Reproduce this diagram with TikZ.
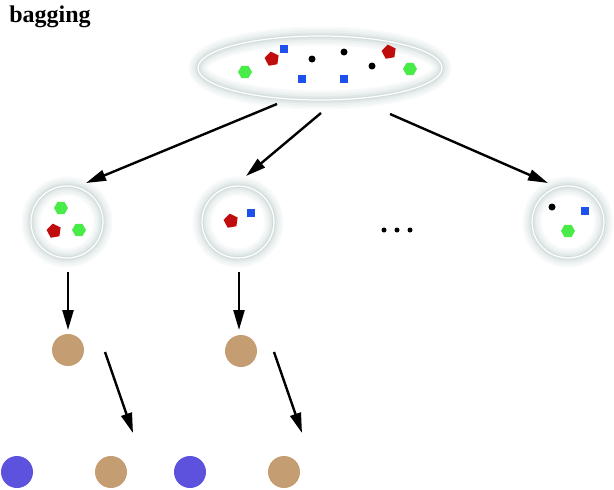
\documentclass[tikz,border=0pt]{standalone}
\usepackage{fontspec}
\setmainfont{Liberation Serif}
\usetikzlibrary{arrows.meta, shapes.geometric}
\definecolor{halo}{RGB}{190,204,204}
\definecolor{tanball}{RGB}{196,158,114}
\definecolor{blueball}{RGB}{92,82,222}
\definecolor{pentred}{RGB}{192,12,12}
\definecolor{hexgreen}{RGB}{72,235,72}
\definecolor{sqblue}{RGB}{30,80,235}

\begin{document}
\begin{tikzpicture}[
  x=1pt, y=-1pt,
  bag/.style={
    draw=white,
    line width=1.2pt,
    inner sep=0pt,
    outer sep=0pt,
    preaction={draw=halo!10, line width=19pt},
    preaction={draw=halo!20, line width=15pt},
    preaction={draw=halo!32, line width=11pt},
    preaction={draw=halo!48, line width=7pt},
    preaction={draw=halo!65, line width=3.5pt}
  },
  pent/.style={regular polygon, regular polygon sides=5, fill=pentred,
    minimum size=15pt, inner sep=0pt, rotate=10},
  hexa/.style={regular polygon, regular polygon sides=6, fill=hexgreen,
    minimum size=14pt, inner sep=0pt},
  sq/.style={rectangle, fill=sqblue, minimum size=8pt, inner sep=0pt},
  blackdot/.style={circle, fill=black, minimum size=7pt, inner sep=0pt},
  ball/.style={circle, minimum size=32pt, inner sep=0pt},
  arrow/.style={-{Triangle[length=20pt, width=11pt]}, line width=2.4pt}
]
\useasboundingbox (0,0) rectangle (614,490);

\node[font=\bfseries\fontsize{24}{28}\selectfont] (title) at (50,17) {bagging};

% the whole data set
\node[bag, ellipse, minimum width=244pt, minimum height=64pt] (big) at (320,68) {};
\node[hexa] (bh1) at (245,72) {};
\node[pent] (bp1) at (272,59) {};
\node[sq] (bs1) at (284,49) {};
\node[blackdot] (bd1) at (312,59) {};
\node[sq] (bs2) at (302,79) {};
\node[blackdot] (bd2) at (344,52) {};
\node[sq] (bs3) at (344,79) {};
\node[blackdot] (bd3) at (372,66) {};
\node[pent] (bp2) at (389,52) {};
\node[hexa] (bh2) at (410,69) {};

% bootstrap samples
\node[bag, circle, minimum size=72pt] (c1) at (67,222) {};
\node[hexa] (h11) at (61,208) {};
\node[pent] (p11) at (54,231) {};
\node[hexa] (h12) at (79,230) {};

\node[bag, circle, minimum size=72pt] (c2) at (238,222) {};
\node[pent] (p21) at (231,221) {};
\node[sq] (s21) at (251,213) {};

\node[bag, circle, minimum size=72pt] (c3) at (568,222) {};
\node[blackdot] (d31) at (552,207) {};
\node[sq] (s31) at (585,211) {};
\node[hexa] (h31) at (568,231) {};

\node[circle, fill=black, minimum size=5pt, inner sep=0pt] (e1) at (384,230) {};
\node[circle, fill=black, minimum size=5pt, inner sep=0pt] (e2) at (397,230) {};
\node[circle, fill=black, minimum size=5pt, inner sep=0pt] (e3) at (410,230) {};

% trees
\node[ball, fill=tanball] (t1) at (68,350) {};
\node[ball, fill=tanball] (t2) at (241,351) {};
\node[ball, fill=blueball] (b1) at (17,472) {};
\node[ball, fill=tanball] (b2) at (111,472) {};
\node[ball, fill=blueball] (b3) at (190,472) {};
\node[ball, fill=tanball] (b4) at (284,472) {};

\draw[arrow] ([shift={(-43,36)}]big.center) -- ([shift={(19,-39)}]c1.center);
\draw[arrow] ([shift={(1,45)}]big.center) -- ([shift={(8,-46)}]c2.center);
\draw[arrow] ([shift={(70,46)}]big.center) -- ([shift={(-20,-39)}]c3.center);
\draw[arrow] ([shift={(1,50)}]c1.center) -- ([shift={(0,-20)}]t1.center);
\draw[arrow] ([shift={(1,50)}]c2.center) -- ([shift={(-2,-21)}]t2.center);
\draw[arrow] ([shift={(37,2)}]t1.center) -- ([shift={(22,-39)}]b2.center);
\draw[arrow] ([shift={(33,1)}]t2.center) -- ([shift={(18,-39)}]b4.center);
\end{tikzpicture}
\end{document}
